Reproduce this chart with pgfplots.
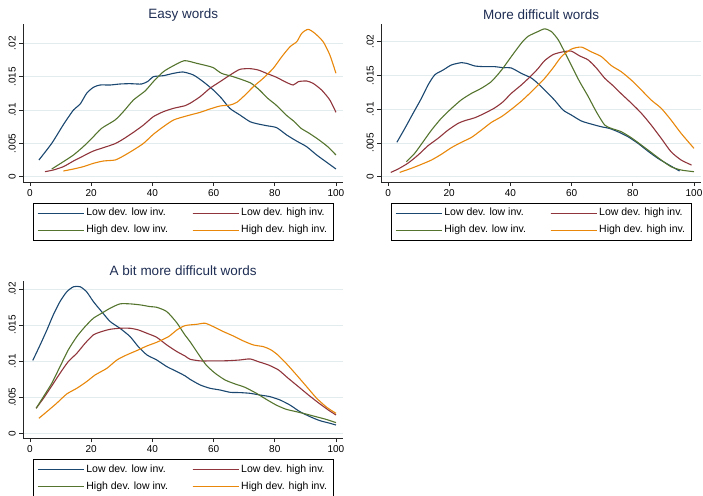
\documentclass[border=0pt]{standalone}
\usepackage{pgfplots}
\pgfplotsset{compat=1.18}
\usepackage{fontspec}
\setmainfont{Liberation Sans}

\definecolor{snavy}{RGB}{26,71,111}
\definecolor{smaroon}{RGB}{144,53,59}
\definecolor{sgreen}{RGB}{85,117,47}
\definecolor{sorange}{RGB}{232,135,10}
\definecolor{stitle}{RGB}{30,45,83}
\definecolor{sgrid}{RGB}{226,236,238}

\pgfplotsset{
  panel/.style={
    scale only axis, width=319.7pt,
    xmin=-2.2, xmax=102.3,
    axis x line*=bottom, axis y line*=left,
    axis line style={black!85, line width=0.7pt},
    tick align=outside, major tick length=4pt,
    tick style={black!85, line width=0.7pt},
    xtick={0,20,...,100},
    ytick={0,0.005,0.01,0.015,0.02},
    yticklabels={0,.005,.01,.015,.02},
    scaled y ticks=false,
    ymajorgrids, major grid style={sgrid, line width=0.8pt},
    tick label style={font=\fontsize{10}{12}\selectfont},
    /pgf/number format/assume math mode=true,
    yticklabel style={rotate=90, anchor=south},
    every axis title/.style={at={(0.5,1)}, anchor=base, yshift=5pt,
      font=\fontsize{13.5}{16}\selectfont, text=stitle},
    every axis plot/.append style={line width=1.1pt, smooth, tension=0.4, mark=none},
    legend columns=2,
    legend cell align=left,
    legend image code/.code={\draw[##1] (0pt,0pt) -- (36pt,0pt); \path (0pt,0pt) -- (46pt,0pt);},
    legend style={at={(0.5,0)}, anchor=north, yshift=-21pt, draw=black, line width=0.6pt,
      font=\fontsize{10.5}{12}\selectfont, inner xsep=4pt, inner ysep=3pt, row sep=3pt,
      nodes={inner xsep=2pt, inner ysep=2.5pt, text height=7pt, text depth=2pt},
      /tikz/every even column/.append style={column sep=22pt}},
  },
}

\begin{document}
\begin{tikzpicture}
\path[use as bounding box] (0pt,0pt) rectangle (703pt,-495pt);

% Easy words
\begin{axis}[panel, at={(23.3pt,-182pt)}, anchor=south west, height=158pt,
  ymin=-0.0008, ymax=0.0229, title={Easy words}]
\addplot[snavy] coordinates {(2.9,.0025)(7.1,.005)(10.9,.0078)(14.2,.010)(16.4,.0109)(18.5,.0125)(20.7,.0134)(22.9,.01375)(26.2,.01375)(29.4,.0139)(32.7,.01395)(36.5,.0139)(38.7,.01435)(40.3,.0150)(43.6,.01515)(46.9,.0155)(50,.0157)(53.4,.01525)(56.6,.01425)(59.9,.0130)(62.6,.01175)(65.3,.01025)(68.6,.00925)(71.9,.00825)(74.6,.0079)(77.3,.00765)(80.6,.00735)(83.9,.00625)(87.1,.00535)(90.4,.0045)(93.7,.00325)(97,.00215)(100,.00115)};
\addplot[smaroon] coordinates {(4.9,.00075)(7.6,.001)(10.9,.0015)(14.2,.00235)(17.4,.0031)(20.7,.00385)(24,.00435)(27.8,.00495)(30.5,.00565)(33.8,.00665)(37.1,.00775)(40.3,.009)(43.6,.00975)(46.9,.01025)(50.7,.01065)(52.3,.0110)(55.6,.0120)(58.8,.01325)(62.1,.01425)(65.4,.01525)(68.6,.0161)(71.9,.0162)(74.6,.0160)(77.3,.0155)(80.6,.0149)(83.3,.01425)(86,.01375)(87.7,.01425)(90.4,.01435)(92.5,.0140)(95.3,.0130)(98,.0115)(100,.00965)};
\addplot[sgreen] coordinates {(7.1,.00115)(10.9,.00225)(14.2,.00325)(17.4,.0045)(20.2,.00575)(23.4,.00725)(27.8,.0085)(30.5,.00975)(33.8,.0115)(37.6,.01285)(40.3,.01425)(43.6,.01575)(46.9,.01665)(50.5,.0174)(54.5,.0170)(57.7,.01665)(59.9,.01635)(62.6,.0155)(66.4,.0150)(69.6,.0145)(72.3,.0140)(75,.0130)(77.7,.01175)(80.4,.01075)(83.7,.00925)(86.4,.00825)(88.6,.00725)(91.3,.0065)(94.5,.0055)(97.3,.0045)(100,.00325)};
\addplot[sorange] coordinates {(10.9,.00085)(14.2,.00115)(17.4,.0015)(20.7,.002)(24,.00235)(27.8,.0025)(30.5,.0031)(33.8,.004)(37.1,.005)(40.3,.00635)(43.6,.0075)(46.9,.0085)(50.7,.00905)(52.3,.00925)(55.6,.00965)(58.8,.01015)(62.1,.0106)(65.4,.01075)(67.6,.01115)(70.3,.01225)(73,.0135)(76.2,.01475)(79.5,.01625)(82.3,.018)(85,.0195)(87.2,.02025)(88.8,.0215)(90.9,.0221)(93.1,.0215)(95.8,.02025)(98,.01825)(100,.0155)};
\legend{Low dev. low inv., Low dev. high inv., High dev. low inv., High dev. high inv.}
\end{axis}

% More difficult words
\begin{axis}[panel, at={(381.3pt,-182pt)}, anchor=south west, height=158pt,
  ymin=-0.000785, ymax=0.02262, title={More difficult words}]
\addplot[snavy] coordinates {(2.9,.0051)(5.5,.00716)(8.2,.0094)(10.9,.0116)(13.1,.0136)(15.3,.0151)(18,.0158)(20.7,.01655)(24,.0169)(25.6,.0168)(28.4,.0164)(31.6,.0163)(34.9,.0163)(37.6,.01615)(40.3,.0161)(43.6,.0153)(46.9,.0146)(49.5,.0136)(51.7,.0126)(54.4,.01136)(57.2,.00988)(59.9,.00914)(63.2,.00825)(66.4,.0078)(69.7,.0074)(72.3,.00716)(75.1,.00667)(78.4,.00593)(81.7,.00494)(84.9,.0038)(88.2,.00272)(91.5,.00183)(95.3,.00084)};
\addplot[smaroon] coordinates {(0.9,.00064)(3.3,.00114)(6.5,.002)(9.8,.0032)(13.1,.0046)(16.4,.0057)(19.6,.0069)(22.9,.0079)(25.1,.0083)(28.4,.00874)(31.6,.0094)(34.9,.0102)(37.6,.0111)(40.3,.01235)(43.6,.0136)(46.9,.0150)(49,.0160)(51.2,.0172)(54,.0181)(57.2,.0185)(59.9,.0186)(62.6,.0179)(65.4,.0173)(68.1,.0161)(70.8,.0146)(73.5,.0135)(76.2,.0123)(79.5,.0109)(82.8,.0094)(86,.00766)(89.3,.00568)(92.5,.0037)(95.8,.00247)(99.2,.00173)};
\addplot[sgreen] coordinates {(6,.00222)(8.7,.00346)(11.5,.0052)(14.2,.0069)(17.4,.00865)(20.7,.0101)(24,.0114)(27.3,.01235)(30.5,.0131)(33.8,.0141)(37.1,.0158)(40.3,.0178)(43.6,.0198)(45.8,.0208)(49,.0215)(51.2,.0219)(53.4,.0215)(55.6,.0203)(57.7,.0185)(59.9,.0165)(62.6,.0141)(65.4,.0119)(68.1,.0096)(70.8,.00766)(73,.00716)(76.2,.00667)(79.5,.00578)(82.8,.00469)(86,.0036)(89.3,.00247)(92.5,.00148)(95.8,.00099)(100,.00074)};
\addplot[sorange] coordinates {(3.8,.00064)(7.6,.00124)(10.9,.00183)(14.2,.00247)(17.4,.00331)(20.7,.0043)(24,.0051)(27.3,.00583)(30.5,.0069)(33.8,.00805)(37.1,.0089)(40.3,.00998)(43.6,.0112)(46.9,.0126)(49.5,.0138)(51.2,.01457)(54,.01615)(56.7,.0178)(59.9,.0189)(63.2,.0192)(66.4,.0185)(69.7,.0178)(73,.01645)(76.2,.01556)(79.5,.01432)(82.8,.01284)(86,.01136)(89.3,.01013)(92.5,.0084)(95.8,.00642)(100,.0042)};
\legend{Low dev. low inv., Low dev. high inv., High dev. low inv., High dev. high inv.}
\end{axis}

% A bit more difficult words
\begin{axis}[panel, at={(23.3pt,-438.3pt)}, anchor=south west, height=157.6pt,
  ymin=-0.000693, ymax=0.02114, title={A bit more difficult words}]
\addplot[snavy] coordinates {(0.9,.0101)(3.3,.01224)(5.5,.0143)(7.6,.0164)(9.8,.01825)(12,.0196)(14.2,.0203)(16.4,.0203)(18.5,.0196)(20.7,.01825)(23.4,.01686)(26.2,.01548)(29.4,.01455)(32.7,.0134)(35.4,.0120)(38.2,.01086)(41.4,.01016)(44.7,.00924)(48,.00855)(50.7,.00795)(52.3,.00748)(55.6,.0067)(58.8,.00624)(62.1,.0060)(65.4,.00568)(68.6,.00564)(71.9,.00554)(75.2,.0053)(78.4,.00508)(81.7,.00462)(84.9,.00393)(88.2,.0030)(91.5,.00231)(94.7,.00176)(98,.00139)(100,.00115)};
\addplot[smaroon] coordinates {(2,.00347)(4.4,.00485)(7.1,.00656)(9.8,.00832)(12.5,.00993)(15.3,.01109)(18,.01247)(20.7,.01363)(23.4,.01409)(26.2,.01441)(29.4,.01455)(32.7,.01455)(35.4,.01432)(38.2,.01386)(41.4,.0133)(44.7,.01224)(48,.01132)(50.7,.0107)(52.3,.01026)(55.6,.01003)(58.8,.01003)(62.1,.01003)(65.4,.01007)(68.6,.01016)(71.9,.0103)(74.6,.00993)(77.9,.00947)(81.2,.00878)(84.4,.00762)(87.7,.00647)(91,.00531)(94.2,.00425)(97.5,.00323)(100,.00254)};
\addplot[sgreen] coordinates {(2,.00347)(4.4,.00508)(7.1,.00693)(9.8,.00924)(12.5,.01155)(15.3,.0134)(18,.01478)(20.7,.01594)(23.4,.01663)(26.2,.01733)(29.4,.01793)(32.7,.01793)(36,.01779)(39.3,.01755)(41.4,.01746)(44.7,.01686)(48,.0153)(50.5,.0137)(52.3,.0127)(55.6,.01062)(57.7,.0094)(60.5,.00832)(63.7,.0074)(67,.00684)(70.2,.00638)(74,.00554)(77.2,.00471)(80.4,.00393)(83.7,.00333)(87,.0030)(90.1,.00268)(93.4,.00231)(96.7,.00194)(100,.00148)};
\addplot[sorange] coordinates {(2.9,.00208)(5.5,.003)(8.7,.00416)(12,.00545)(15.3,.00624)(18.5,.00716)(21.3,.00809)(25.1,.009)(28.4,.01016)(31.6,.01086)(34.9,.01146)(38.2,.0121)(41.4,.01261)(45.3,.0134)(48,.01432)(50.7,.01492)(54.5,.0151)(57.2,.01525)(59.9,.01478)(63.2,.01409)(66.4,.01349)(69.7,.0128)(73,.01224)(76.2,.01201)(78.4,.01164)(80.6,.0110)(83.9,.00961)(87.1,.00809)(90.4,.00647)(93.7,.00485)(97,.0036)(100,.00277)};
\legend{Low dev. low inv., Low dev. high inv., High dev. low inv., High dev. high inv.}
\end{axis}
\end{tikzpicture}
\end{document}
